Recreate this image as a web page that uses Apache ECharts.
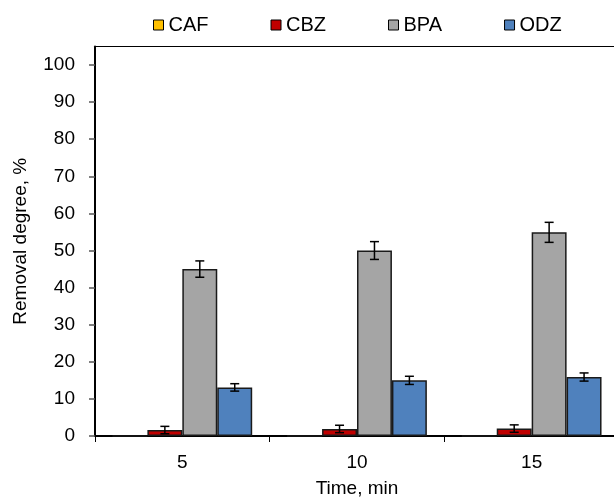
<!DOCTYPE html>
<html>
<head>
<meta charset="utf-8">
<script src="https://cdn.jsdelivr.net/npm/echarts@6/dist/echarts.min.js"></script>
<style>
html,body{margin:0;padding:0;background:#fff;}
#main{width:614px;height:499px;}
</style>
</head>
<body>
<div id="main"></div>
<script>
// time points (min)
var categories = ['5', '10', '15'];
var seriesNames = ['CAF', 'CBZ', 'BPA', 'ODZ'];
var colors = ['#FFC000', '#C00000', '#A5A5A5', '#4F81BD'];

// removal degree, % and error (+/-)
var cafVal = [0, 0, 0];
var cafErr = [0, 0, 0];
var cbzVal = [1.6, 1.9, 2.0];
var cbzErr = [1.0, 1.0, 1.0];
var bpaVal = [45, 50, 54.9];
var bpaErr = [2.2, 2.4, 2.7];
var odzVal = [13.1, 15, 15.9];
var odzErr = [1.0, 1.1, 1.1];

var yTicks = [0, 10, 20, 30, 40, 50, 60, 70, 80, 90, 100];

var values = [cafVal, cbzVal, bpaVal, odzVal];
var errors = [cafErr, cbzErr, bpaErr, odzErr];

var FONT = 'Liberation Sans, Arial, sans-serif';

var myChart = echarts.init(document.getElementById('main'));

// error bar data: [category index, series index, low, high]
var errData = [];
for (var s = 0; s < values.length; s++) {
	for (var k = 0; k < categories.length; k++) {
		if (errors[s][k] > 0) {
			errData.push([k, s, values[s][k] - errors[s][k], values[s][k] + errors[s][k]]);
		}
	}
}

function renderErr(params, api) {
	var ci = api.value(0);
	var si = api.value(1);
	var band = api.size([1, 0])[0];
	var barW = band * 0.8 / 4;
	var cx = api.coord([ci, 0])[0] - band * 0.4 + (si + 0.5) * barW;
	var lo = api.coord([ci, api.value(2)])[1];
	var hi = api.coord([ci, api.value(3)])[1];
	var cap = 4.5;
	var st = { stroke: '#000', lineWidth: 1.5 };
	return {
		type: 'group',
		children: [
			{ type: 'line', shape: { x1: cx, y1: lo, x2: cx, y2: hi }, style: st },
			{ type: 'line', shape: { x1: cx - cap, y1: lo, x2: cx + cap, y2: lo }, style: st },
			{ type: 'line', shape: { x1: cx - cap, y1: hi, x2: cx + cap, y2: hi }, style: st }
		]
	};
}

var series = [];
for (var i = 0; i < seriesNames.length; i++) {
	series.push({
		name: seriesNames[i],
		type: 'bar',
		data: values[i],
		barGap: '0%',
		barCategoryGap: '20%',
		itemStyle: { color: colors[i], borderColor: '#1a1a1a', borderWidth: 1.5 }
	});
}
series.push({
	name: 'err',
	type: 'custom',
	renderItem: renderErr,
	encode: { x: 0, y: [2, 3] },
	data: errData,
	z: 5,
	silent: true
});

var option = {
	animation: false,
	textStyle: { fontFamily: FONT },
	legend: {
		data: seriesNames,
		top: 10,
		left: 148,
		itemWidth: 10,
		itemHeight: 10,
		itemGap: 62,
		icon: 'rect',
		itemStyle: { borderColor: '#000', borderWidth: 1 },
		textStyle: { fontSize: 20, color: '#000', fontFamily: FONT }
	},
	grid: {
		left: 95,
		right: -5,
		top: 46.5,
		bottom: 63,
		containLabel: false,
		outerBoundsMode: 'none',
		show: true,
		borderColor: '#000',
		borderWidth: 1,
		backgroundColor: 'transparent'
	},
	xAxis: {
		type: 'category',
		data: categories,
		name: 'Time, min',
		nameLocation: 'middle',
		nameGap: 43,
		nameTextStyle: { fontSize: 19, color: '#000', fontFamily: FONT },
		axisLine: { lineStyle: { color: '#000', width: 2 } },
		axisTick: { show: true, length: 6, lineStyle: { color: '#000', width: 1 } },
		axisLabel: { fontSize: 19, color: '#000', margin: 17, fontFamily: FONT }
	},
	yAxis: {
		type: 'value',
		min: 0,
		max: 105,
		interval: 5,
		name: 'Removal degree, %',
		nameLocation: 'middle',
		nameGap: 65,
		nameTextStyle: { fontSize: 19, color: '#000', fontFamily: FONT },
		axisLine: { show: true, lineStyle: { color: '#000', width: 2 } },
		axisTick: { show: true, length: 6, customValues: yTicks, lineStyle: { color: '#555', width: 1.5 } },
		axisLabel: { fontSize: 19, color: '#000', margin: 20, customValues: yTicks, fontFamily: FONT },
		splitLine: { show: false }
	},
	series: series
};

myChart.setOption(option);
</script>
</body>
</html>
